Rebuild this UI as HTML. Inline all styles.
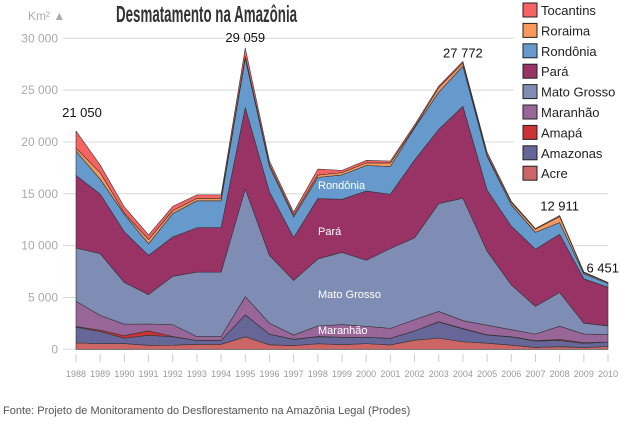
<!DOCTYPE html>
<html><head><meta charset="utf-8"><style>
body{margin:0;background:#fff;width:620px;height:434px;overflow:hidden;font-family:"Liberation Sans",sans-serif}
svg{display:block}
</style></head><body>
<svg id="chart" width="620" height="434">
<text x="28" y="20" font-size="12" fill="#aaa">Km² ▲</text>
<text x="116" y="22" font-family="'Liberation Sans Narrow','Liberation Sans',sans-serif" font-size="23" font-weight="bold" fill="#333" transform="scale(0.58,1)" transform-origin="116 22">Desmatamento na Amazônia</text>
<g id="grid"></g><g id="areas"></g><g id="xaxis"></g><g id="labels"></g>
<rect x="514" y="0" width="106" height="186" fill="#fff"/>
<g id="legend"></g>
<text x="3" y="414" font-size="11" fill="#555">Fonte: Projeto de Monitoramento do Desflorestamento na Amazônia Legal (Prodes)</text>
</svg>
<script>
const years=[1988,1989,1990,1991,1992,1993,1994,1995,1996,1997,1998,1999,2000,2001,2002,2003,2004,2005,2006,2007,2008,2009,2010];
const acre=[620,540,550,380,400,482,482,1208,433,358,536,441,547,419,883,1078,728,592,398,184,254,167,270];
const amazonas=[1510,1180,520,980,799,370,370,2114,1023,589,670,720,612,634,885,1558,1232,775,788,610,604,405,430];
const amapa=[60,130,250,410,36,0,0,9,0,18,30,0,0,7,0,25,46,33,30,39,100,70,0];
const maranhao=[2450,1420,1100,670,1135,372,372,1745,1061,409,1012,1230,1065,958,1085,993,755,922,674,631,1271,828,720];
const matoGrosso=[5140,5960,4020,2840,4674,6220,6220,10391,6543,5271,6466,6963,6369,7703,7892,10405,11814,7145,4333,2678,3258,1049,830];
const para=[6990,5750,4890,3780,3787,4284,4284,7845,6135,4139,5829,5111,6671,5237,7510,7145,8870,5899,5659,5526,5607,4281,3730];
const rondonia=[2340,1430,1670,1110,2265,2595,2595,4730,2432,1986,2041,2358,2465,2673,3099,3597,3858,3244,2049,1611,1136,482,370];
const roraima=[290,630,150,420,281,240,240,220,214,184,223,220,253,345,84,439,311,133,231,309,574,121,70];
const tocantins=[1650,730,580,440,409,333,333,797,320,273,576,216,244,189,212,156,158,271,124,63,107,61,31];
const seriesNames=["Acre","Amazonas","Amapá","Maranhão","Mato Grosso","Pará","Rondônia","Roraima","Tocantins"];
const seriesData=[acre,amazonas,amapa,maranhao,matoGrosso,para,rondonia,roraima,tocantins];
const colors=["#cc6666","#666699","#cc3333","#996699","#7f8db4","#993366","#6699cc","#f7995c","#f76363"];
const yTicks=[0,5000,10000,15000,20000,25000,30000];
const annotYears=[1988,1995,2004,2008,2010];
const annotText=["21 050","29 059","27 772","12 911","6 451"];
const NS="http://www.w3.org/2000/svg";
const x=i=>76+i*(532/22);
const y=v=>349.3-v*(311/30000);
function mk(t,a,p){const e=document.createElementNS(NS,t);for(const k in a)e.setAttribute(k,a[k]);p.appendChild(e);return e;}
const grid=document.getElementById('grid');
yTicks.forEach(v=>{
 const l=mk('line',{x1:63,x2:608,y1:y(v),y2:y(v),stroke:'#d8d8d8','stroke-width':1},grid);
 
 
 const t=mk('text',{x:58,y:y(v)+4,'text-anchor':'end','font-size':12,fill:'#aaa'},grid);
 t.textContent=v===0?'0':(v/1000)+' 000';
 
 
});
const areas=document.getElementById('areas');
const base=years.map(()=>0);
seriesData.forEach((s,k)=>{
 const top=base.map((b,i)=>b+s[i]);
 let d='M'+years.map((_,i)=>x(i)+','+y(top[i])).join('L');
 for(let i=years.length-1;i>=0;i--)d+='L'+x(i)+','+y(base[i]);
 d+='Z';
 const p=mk('path',{d:d,fill:colors[k],stroke:'#333','stroke-width':0.6,'stroke-linejoin':'round'},areas);
 
 
 top.forEach((v,i)=>base[i]=v);
});
const xa=document.getElementById('xaxis');
years.forEach((yr,i)=>{
 const l=mk('line',{x1:x(i),x2:x(i),y1:354,y2:362,stroke:'#ccc'},xa);
 
 
 const t=mk('text',{x:x(i),y:377,'text-anchor':'middle','font-size':9,fill:'#999'},xa);
 t.textContent=yr;
 
 
});
const lab=document.getElementById('labels');
const offs={1988:14,1995:6,2004:4,2008:5,2010:10};
annotYears.forEach((yr,j)=>{
 const i=years.indexOf(yr);
 let tx=x(i),anchor='middle';
 if(yr===1988)tx=x(i)+6;
 if(yr===2010){tx=619;anchor='end';}
 const t=mk('text',{x:tx,y:y(base[i])-offs[yr],'text-anchor':anchor,'font-size':13,fill:'#111'},lab);
 t.textContent=annotText[j];
 
 
});
[["Rondônia",189],["Pará",235],["Mato Grosso",298],["Maranhão",334]].forEach(a=>{
 const t=mk('text',{x:318,y:a[1],'font-size':11,fill:'#fff'},lab);
 t.textContent=a[0];
 
 
});
const lg=document.getElementById('legend');
for(let k=8;k>=0;k--){
 const r=8-k;const yy=3+r*20.4;
 const g=mk('g',{},lg);
 
 
 mk('rect',{x:523,y:yy,width:14,height:14,fill:colors[k],stroke:'#222','stroke-width':1},g);
 const t=mk('text',{x:541,y:yy+12,'font-size':13,fill:'#222'},g);
 t.textContent=seriesNames[k];
}
</script>
</body></html>
